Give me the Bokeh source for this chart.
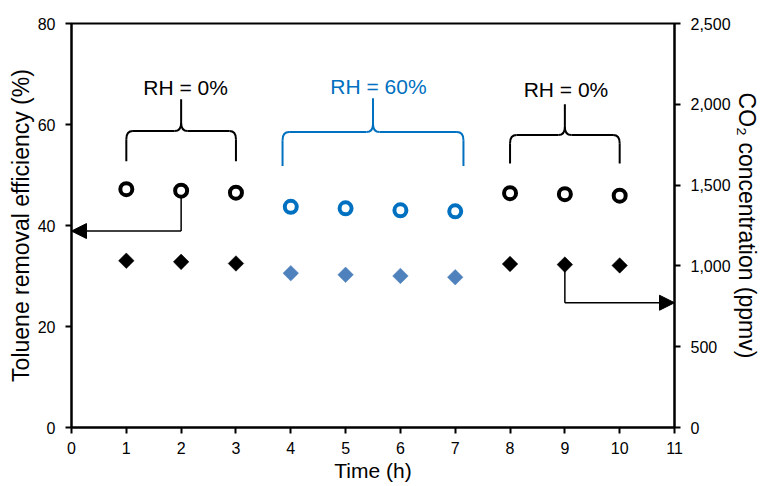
from bokeh.plotting import figure
from bokeh.models import (LinearAxis, Range1d, FixedTicker, NumeralTickFormatter,
                          Arrow, NormalHead, ColumnDataSource)
from bokeh.core.properties import value
from bokeh.embed import file_html
from bokeh.resources import INLINE

# ---------------- data ----------------
time_h = [1, 2, 3, 4, 5, 6, 7, 8, 9, 10]
toluene_eff = [47.2, 46.9, 46.5, 43.7, 43.4, 43.0, 42.8, 46.4, 46.2, 45.9]   # % (left axis)
co2_ppmv = [1032, 1025, 1015, 955, 945, 938, 930, 1012, 1008, 1003]          # ppmv (right axis)
rh_group = ["0", "0", "0", "60", "60", "60", "60", "0", "0", "0"]

brace_x0 = [1.0, 3.85, 8.0]
brace_x1 = [3.0, 7.15, 10.0]
brace_bottom = [52.7, 51.8, 52.3]
brace_mid = [58.7, 58.5, 57.9]
brace_tip = [65.0, 65.2, 64.0]
brace_label = ["RH = 0%", "RH = 60%", "RH = 0%"]
brace_label_x = [2.08, 5.6, 9.02]
brace_label_y = [67.4, 67.6, 67.0]

FONT = "Liberation Sans"
BLACK = "#000000"
BLUE_C = "#0070C0"
BLUE_D = "#4F81BD"
brace_color = [BLACK, BLUE_C, BLACK]

p = figure(width=762, height=486, output_backend="svg", toolbar_location=None,
           x_range=Range1d(0, 11), y_range=Range1d(0, 80),
           min_border_left=71, min_border_right=85, min_border_top=23, min_border_bottom=59)
p.extra_y_ranges = {"co2": Range1d(0, 2500)}

p.grid.visible = False
p.outline_line_color = BLACK
p.outline_line_width = 2
p.background_fill_color = "white"
p.border_fill_color = "white"

def style_axis(ax):
    ax.axis_line_width = 2
    ax.axis_line_color = BLACK
    ax.major_tick_line_width = 2
    ax.major_tick_line_color = BLACK
    ax.major_tick_out = 6
    ax.major_tick_in = 0
    ax.minor_tick_line_color = None
    ax.major_label_text_font = FONT
    ax.major_label_text_font_size = "16px"
    ax.major_label_text_color = BLACK
    ax.axis_label_text_font = FONT
    ax.axis_label_text_font_size = "23px"
    ax.axis_label_text_font_style = "normal"
    ax.axis_label_text_color = BLACK

p.xaxis.ticker = FixedTicker(ticks=list(range(0, 12)))
p.xaxis.axis_label = "Time (h)"
style_axis(p.xaxis[0])
p.xaxis.axis_label_text_font_size = "21px"
p.xaxis.axis_label_standoff = 2
p.xaxis.major_label_standoff = 8

p.yaxis.ticker = FixedTicker(ticks=[0, 20, 40, 60, 80])
p.yaxis.axis_label = "Toluene removal efficiency (%)"
style_axis(p.yaxis[0])
p.yaxis.axis_label_standoff = 1
p.yaxis.major_label_standoff = 10

ax2 = LinearAxis(y_range_name="co2", ticker=FixedTicker(ticks=[0, 500, 1000, 1500, 2000, 2500]),
                 formatter=NumeralTickFormatter(format="0,0"),
                 axis_label="CO\u2082 concentration (ppmv)")
style_axis(ax2)
ax2.axis_label_standoff = 0
ax2.major_label_standoff = 10
p.add_layout(ax2, "right")

# ---------------- braces ----------------
rx, ry = 0.12, 1.6
for i in range(len(brace_x0)):
    x0, x1 = brace_x0[i], brace_x1[i]
    xm = (x0 + x1) / 2
    yb, yh, yt = brace_bottom[i], brace_mid[i], brace_tip[i]
    c = brace_color[i]
    p.segment(x0=[x0, x1, x0 + rx, xm + rx, xm], y0=[yb, yb, yh, yh, yh + ry],
              x1=[x0, x1, xm - rx, x1 - rx, xm], y1=[yh - ry, yh - ry, yh, yh, yt],
              line_color=c, line_width=2)
    p.quadratic(x0=[x0, x1, xm - rx, xm + rx], y0=[yh - ry, yh - ry, yh, yh],
                x1=[x0 + rx, x1 - rx, xm, xm], y1=[yh, yh, yh + ry, yh + ry],
                cx=[x0, x1, xm, xm], cy=[yh, yh, yh, yh],
                line_color=c, line_width=2)
    p.text(x=[brace_label_x[i]], y=[brace_label_y[i]], text=[brace_label[i]],
           text_font=value(FONT), text_font_size="21px", text_color=c,
           text_align="center", text_baseline="middle")

# ---------------- pointer arrows ----------------
left_arrow_y = 38.9
p.segment(x0=[time_h[1]], y0=[toluene_eff[1]], x1=[time_h[1]], y1=[left_arrow_y],
          line_color=BLACK, line_width=1.5)
p.add_layout(Arrow(x_start=time_h[1], y_start=left_arrow_y, x_end=0, y_end=left_arrow_y,
                   line_color=BLACK, line_width=1.5,
                   end=NormalHead(size=15, fill_color=BLACK, line_color=BLACK)))

right_arrow_y = 772
p.segment(x0=[time_h[8]], y0=[co2_ppmv[8]], x1=[time_h[8]], y1=[right_arrow_y],
          line_color=BLACK, line_width=1.5, y_range_name="co2")
p.add_layout(Arrow(x_start=time_h[8], y_start=right_arrow_y, x_end=11, y_end=right_arrow_y,
                   y_range_name="co2", line_color=BLACK, line_width=1.5,
                   end=NormalHead(size=15, fill_color=BLACK, line_color=BLACK)))

# ---------------- markers ----------------
circ_col = [BLUE_C if g == "60" else BLACK for g in rh_group]
dia_col = [BLUE_D if g == "60" else BLACK for g in rh_group]
src = ColumnDataSource(dict(t=time_h, eff=toluene_eff, co2=co2_ppmv, cc=circ_col, dc=dia_col))

p.scatter("t", "eff", source=src, marker="circle", size=12, line_width=4,
          line_color="cc", fill_color="white")
p.scatter("t", "co2", source=src, marker="square", size=11, angle=0.785398,
          line_color="dc", fill_color="dc", line_width=0.5, y_range_name="co2")

open("out.html", "w").write(file_html(p, INLINE))
